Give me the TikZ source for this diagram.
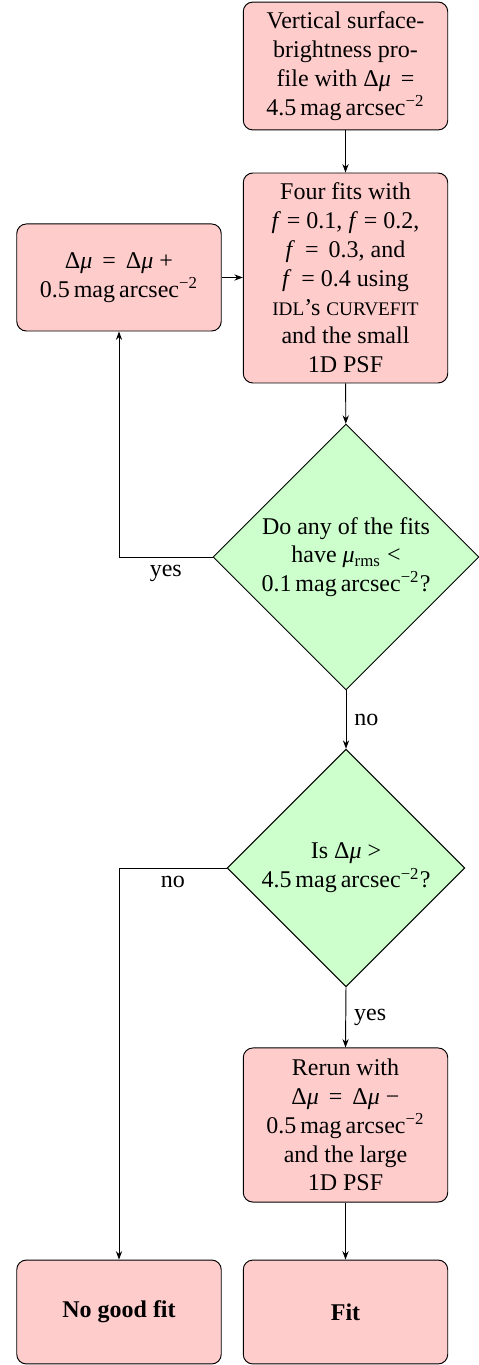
\documentclass[tikz,border=0pt]{standalone}
\usepackage{fontspec}
\setmainfont{Liberation Serif}
\usetikzlibrary{shapes.geometric,arrows.meta}
\newcommand\dmu{Δ\textit{μ}}
\newcommand\magarc{mag\,arcsec\textsuperscript{−2}}
\newcommand\fsc[1]{{\footnotesize #1}}
\begin{document}
\begin{tikzpicture}[x=0.4167pt,y=-0.4167pt,
  box/.style={draw, rounded corners=4pt, fill=red!20, minimum width=85.2pt, align=center, inner sep=0pt, font=\normalsize},
  dia/.style={draw, diamond, fill=green!20, inner sep=0pt, aspect=1},
  dtext/.style={align=center, inner sep=0pt, font=\normalsize},
  conn/.style={-{Stealth[length=3.5pt,width=2.6pt]}, line width=0.4pt},
  lbl/.style={font=\normalsize}]
\useasboundingbox (0,0) rectangle (479,1365);
\node[box, minimum height=53.3pt] (prof) at (345.5,66) {Vertical surface-\\brightness pro-\\file with \dmu{} \,=\\4.5\,\magarc};
\node[box, minimum height=87.5pt] (fits) at (345.5,278) {Four fits with\\\textit{f} = 0.1, \textit{f} = 0.2,\\\textit{f} \,= \,0.3, and\\\textit{f} \,= 0.4 using\\\fsc{IDL}’s \fsc{CURVEFIT}\\and the small\\1D PSF};
\node[box, minimum height=44.6pt] (incr) at (119,277.5) {\dmu{} \,= \,\dmu{} +\\0.5\,\magarc};
\node[dia, minimum width=110.8pt, minimum height=110.8pt] (d1) at (346,557) {};
\node[dtext] (d1t) at (346,557) {Do any of the fits\\have \textit{μ}\textsubscript{rms} <\\0.1\,\magarc?};
\node[dia, minimum width=99pt, minimum height=99pt] (d2) at (346,868) {};
\node[dtext] (d2t) at (346,868) {Is \dmu{} >\\4.5\,\magarc?};
\node[box, minimum height=64.2pt] (rerun) at (345.5,1125) {Rerun with\\\dmu{} \,= \,\dmu{} −\\0.5\,\magarc\\and the large\\1D PSF};
\node[box, minimum height=43.3pt] (nofit) at (119,1312) {\textbf{No good fit}};
\node[box, minimum height=43.3pt] (fit) at (345.5,1312) {\textbf{Fit}};
\draw[conn] (prof) -- (fits);
\draw[conn] (incr.east) -- (incr.east -| fits.west);
\draw[conn] (fits) -- (d1);
\draw[conn] (d1.west) -| node[pos=0.25, below, lbl] {yes} (incr.south);
\draw[conn] (d1.south) -- node[midway, right, lbl] {no} (d2.north);
\draw[conn] (d2.west) -| node[pos=0.25, below, lbl] {no} (nofit.north);
\draw[conn] (d2.south) -- node[midway, right, lbl] {yes} (rerun.north);
\draw[conn] (rerun) -- (fit);
\end{tikzpicture}
\end{document}
